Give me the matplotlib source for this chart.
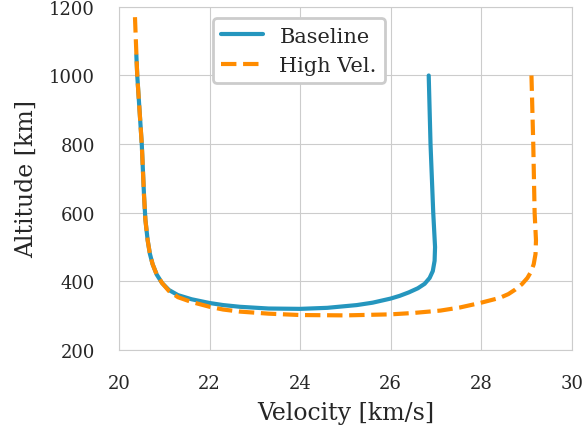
import matplotlib
matplotlib.use("Agg")
import matplotlib.pyplot as plt
import seaborn as sns

# Baseline trajectory (velocity km/s, altitude km)
base_vel = [26.84, 26.88, 26.94, 26.98, 26.97, 26.93, 26.86, 26.75, 26.6, 26.4,
            26.2, 26.0, 25.6, 25.25, 24.6, 24.0, 23.3, 22.67, 22.3, 22.0,
            21.6, 21.3, 21.1, 20.95, 20.83, 20.74, 20.68, 20.63, 20.58, 20.55,
            20.5, 20.45, 20.4, 20.38]
base_alt = [1000, 800, 600, 500, 460, 430, 410, 393, 380, 368,
            358, 350, 338, 331, 323, 320, 321, 326, 331, 337,
            348, 360, 375, 395, 420, 450, 480, 520, 580, 650,
            800, 900, 1000, 1060]

# High velocity trajectory
high_vel = [29.11, 29.15, 29.18, 29.21, 29.2, 29.16, 29.1, 29.02, 28.9, 28.75, 28.6,
            28.41, 27.97, 27.53, 27.1, 26.5, 26.0, 25.0, 24.0, 23.3, 22.67,
            22.3, 22.0, 21.6, 21.3, 21.1, 20.95, 20.83, 20.74, 20.68, 20.63,
            20.58, 20.55, 20.5, 20.45, 20.4, 20.37, 20.35]
high_alt = [1000, 800, 600, 520, 480, 450, 428, 410, 392, 376, 363,
            352, 337, 324, 315, 308, 304, 301, 302, 306, 312,
            318, 326, 340, 354, 372, 395, 420, 450, 480, 520,
            580, 650, 800, 900, 1000, 1100, 1170]

sns.set_style("whitegrid")
plt.rcParams['font.family'] = ['DejaVu Serif']

fig = plt.figure(figsize=(5.84, 4.35), dpi=100)
ax = fig.add_axes([0.204, 0.193, 0.775, 0.789])

ax.plot(base_vel, base_alt, color='#2596be', lw=3, label='Baseline')
ax.plot(high_vel, high_alt, color='#ff8c00', lw=3, ls='--', label='High Vel.')

ax.set_xlim(20, 30)
ax.set_ylim(200, 1200)
ax.set_xticks([20, 22, 24, 26, 28, 30])
ax.set_yticks([200, 400, 600, 800, 1000, 1200])
ax.tick_params(labelsize=13, pad=14, colors='#262626')
ax.set_xlabel("Velocity [km/s]", fontsize=17, color='#262626', labelpad=6)
ax.set_ylabel("Altitude [km]", fontsize=17, color='#262626', labelpad=8)

leg = ax.legend(loc='upper left', bbox_to_anchor=(0.184, 0.997), fontsize=15,
                frameon=True, edgecolor='#cccccc', framealpha=1)
leg.get_frame().set_linewidth(2)

fig.savefig("out.png", dpi=100)
